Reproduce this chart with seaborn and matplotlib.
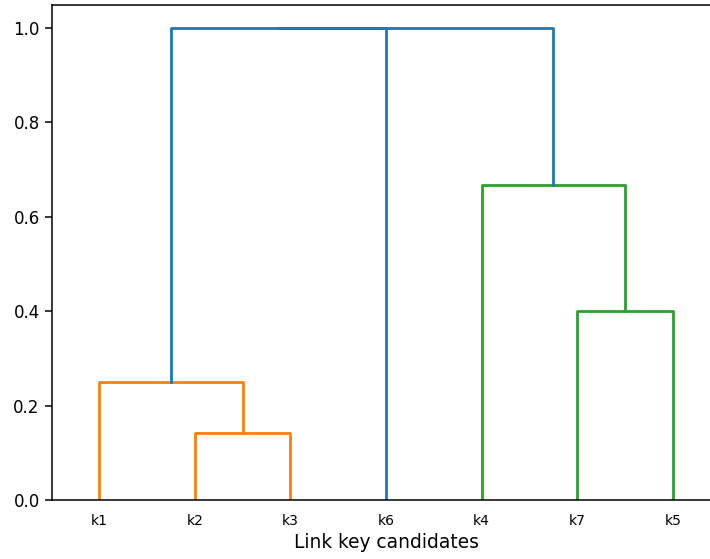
import numpy as np
import pandas as pd
import matplotlib
matplotlib.use("Agg")
import matplotlib.pyplot as plt
import seaborn as sns

# leaves in dendrogram order
leaf_labels = ["k1", "k2", "k3", "k6", "k4", "k7", "k5"]

# merges: (left node, right node, height); new node ids start after the leaves
merge_left = [1, 0, 5, 4, 8, 11]
merge_right = [2, 7, 6, 9, 3, 10]
merge_height = [0.143, 0.25, 0.40, 0.667, 1.0, 1.0]
merge_group = ["C1", "C1", "C2", "C2", "C0", "C0"]

palette = sns.color_palette("tab10")
group_colors = {"C0": palette[0], "C1": palette[1], "C2": palette[2]}


def build_segments():
    node_x = {i: 5 + 10 * i for i in range(len(leaf_labels))}
    node_h = {i: 0.0 for i in range(len(leaf_labels))}
    rows = []
    for k, (a, b, h, g) in enumerate(zip(merge_left, merge_right, merge_height, merge_group)):
        xs = [node_x[a], node_x[a], node_x[b], node_x[b]]
        ys = [node_h[a], h, h, node_h[b]]
        for j, (x, y) in enumerate(zip(xs, ys)):
            rows.append({"x": x, "y": y, "link": k, "order": j, "group": g})
        new_id = len(leaf_labels) + k
        node_x[new_id] = (node_x[a] + node_x[b]) / 2
        node_h[new_id] = h
    return pd.DataFrame(rows)


def main():
    df = build_segments()

    fig = plt.figure(figsize=(7.1, 5.59), dpi=100)
    # the right edge of the axes runs past the saved picture, like the reference
    ax = fig.add_axes([51.5 / 710, 59 / 559, 669 / 710, 495.5 / 559])

    for k, sub in df.groupby("link"):
        sns.lineplot(data=sub, x="x", y="y", sort=False, estimator=None,
                     color=group_colors[sub["group"].iloc[0]], linewidth=2, ax=ax)

    ax.set_xlim(0, 70)
    ax.set_ylim(0, 1.05)
    ax.set_xticks([5 + 10 * i for i in range(len(leaf_labels))])
    ax.set_xticklabels(leaf_labels, fontsize=10)
    ax.tick_params(axis="x", length=0, pad=10)
    ax.set_yticks([0.0, 0.2, 0.4, 0.6, 0.8, 1.0])
    ax.tick_params(axis="y", labelsize=12, length=5, width=1.1)
    for s in ax.spines.values():
        s.set_linewidth(1.1)
    ax.spines["right"].set_visible(False)
    ax.set_xlabel("Link key candidates", fontsize=13.4, labelpad=4)
    ax.set_ylabel("")

    fig.savefig("out.png", dpi=100)


if __name__ == "__main__":
    main()
